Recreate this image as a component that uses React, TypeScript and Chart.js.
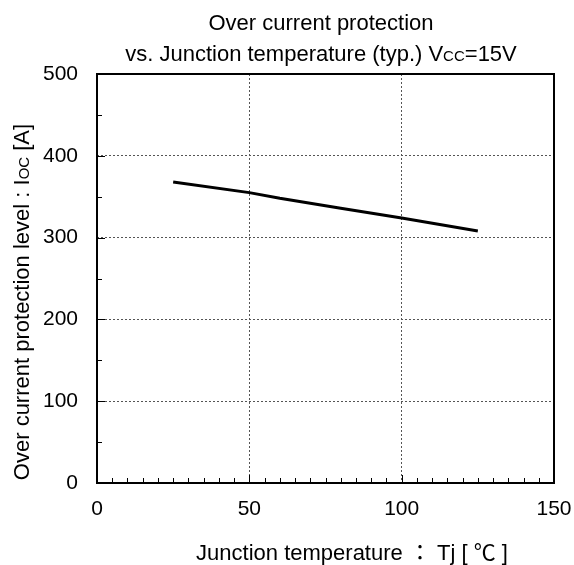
import React, { useEffect, useRef } from "react";
import { Chart, registerables } from "chart.js";

Chart.register(...registerables);

// ---- data ----
const temperatures = [25, 50, 60, 80, 100, 125];
const ocLevels = [368, 355, 348, 336, 324, 308];

const xMin = 0;
const xMax = 150;
const xMajorStep = 50;
const xMinorStep = 5;
const yMin = 0;
const yMax = 500;
const yMajorStep = 100;
const yMinorStep = 50;

const titleLine1 = "Over current protection";
const titleLine2 = [
  { t: "vs. Junction temperature (typ.) V", small: false },
  { t: "CC", small: true },
  { t: "=15V", small: false },
];
const xTitle = [{ t: "Junction temperature ： Tj [ ℃ ]", small: false }];
const yTitle = [
  { t: "Over current protection level : I", small: false },
  { t: "OC", small: true },
  { t: " [A]", small: false },
];

const FONT = '"Liberation Sans", Arial, "Noto Sans CJK JP", sans-serif';

type Seg = { t: string; small: boolean };

function drawRich(ctx: CanvasRenderingContext2D, segs: Seg[], cx: number, y: number, size: number, smallSize: number) {
  const fonts = segs.map((s) => `${s.small ? smallSize : size}px ${FONT}`);
  let total = 0;
  const widths = segs.map((s, i) => {
    ctx.font = fonts[i];
    const w = ctx.measureText(s.t).width;
    total += w;
    return w;
  });
  let x = cx - total / 2;
  ctx.textAlign = "left";
  ctx.textBaseline = "alphabetic";
  segs.forEach((s, i) => {
    ctx.font = fonts[i];
    ctx.fillText(s.t, x, y);
    x += widths[i];
  });
}

const decorPlugin = {
  id: "decor",
  afterDatasetsDraw(chart: any) {
    const { ctx, chartArea } = chart;
    const xs = chart.scales.x;
    const ys = chart.scales.y;
    ctx.save();
    ctx.strokeStyle = "#000";
    ctx.lineWidth = 1;
    ctx.setLineDash([]);
    xs.ticks.forEach((tk: any) => {
      const v = tk.value;
      if (v <= xMin || v >= xMax) return;
      const px = Math.round(xs.getPixelForValue(v)) + 0.5;
      const len = v % xMajorStep === 0 ? 8 : 5;
      ctx.beginPath();
      ctx.moveTo(px, chartArea.bottom);
      ctx.lineTo(px, chartArea.bottom - len);
      ctx.stroke();
    });
    ys.ticks.forEach((tk: any) => {
      const v = tk.value;
      if (v <= yMin || v >= yMax) return;
      const py = Math.round(ys.getPixelForValue(v)) + 0.5;
      const len = v % yMajorStep === 0 ? 8 : 5;
      ctx.beginPath();
      ctx.moveTo(chartArea.left, py);
      ctx.lineTo(chartArea.left + len, py);
      ctx.stroke();
    });
    ctx.lineWidth = 2;
    ctx.strokeRect(chartArea.left, chartArea.top, chartArea.right - chartArea.left, chartArea.bottom - chartArea.top);
    ctx.restore();
  },
  afterDraw(chart: any) {
    const { ctx } = chart;
    ctx.save();
    ctx.fillStyle = "#000";
    drawRich(ctx, [{ t: titleLine1, small: false }], 321, 30, 22, 15);
    drawRich(ctx, titleLine2, 321, 61, 22, 15);
    drawRich(ctx, xTitle, 352, 560, 22, 15);
    ctx.translate(29, 302);
    ctx.rotate(-Math.PI / 2);
    drawRich(ctx, yTitle, 0, 0, 22, 15);
    ctx.restore();
  },
};

export default function App() {
  const ref = useRef<HTMLCanvasElement | null>(null);
  useEffect(() => {
    if (!ref.current) return;
    const chart = new Chart(ref.current, {
      type: "line",
      data: {
        datasets: [
          {
            data: temperatures.map((t, i) => ({ x: t, y: ocLevels[i] })),
            borderColor: "#000",
            borderWidth: 3,
            pointRadius: 0,
            tension: 0,
            fill: false,
          },
        ],
      },
      options: {
        animation: false,
        responsive: false,
        devicePixelRatio: 1,
        layout: { padding: { top: 74, right: 20, left: 0, bottom: 0 } },
        plugins: { legend: { display: false }, title: { display: false }, tooltip: { enabled: false } },
        scales: {
          x: {
            type: "linear",
            min: xMin,
            max: xMax,
            afterFit: (s: any) => {
              s.height = 82;
              s.paddingLeft = 0;
              s.paddingRight = 0;
            },
            ticks: {
              stepSize: xMinorStep,
              autoSkip: false,
              maxRotation: 0,
              padding: 14,
              color: "#000",
              font: { family: FONT, size: 21 },
              callback: (v: any) => (Number(v) % xMajorStep === 0 ? String(v) : ""),
            },
            grid: {
              drawTicks: false,
              lineWidth: 1,
              color: (c: any) =>
                c.tick && c.tick.value % xMajorStep === 0 && c.tick.value > xMin && c.tick.value < xMax ? "#555" : "rgba(0,0,0,0)",
            },
            border: { display: false, dash: [2, 2] },
          },
          y: {
            type: "linear",
            min: yMin,
            max: yMax,
            afterFit: (s: any) => {
              s.width = 97;
              s.paddingTop = 0;
              s.paddingBottom = 0;
            },
            ticks: {
              stepSize: yMinorStep,
              autoSkip: false,
              padding: 19,
              color: "#000",
              font: { family: FONT, size: 21 },
              callback: (v: any) => (Number(v) % yMajorStep === 0 ? String(v) : ""),
            },
            grid: {
              drawTicks: false,
              lineWidth: 1,
              color: (c: any) =>
                c.tick && c.tick.value % yMajorStep === 0 && c.tick.value > yMin && c.tick.value < yMax ? "#555" : "rgba(0,0,0,0)",
            },
            border: { display: false, dash: [2, 2] },
          },
        },
      },
      plugins: [decorPlugin],
    } as any);
    return () => chart.destroy();
  }, []);
  return (
    <div style={{ position: "fixed", left: 0, top: 0, width: 574, height: 565, background: "#fff" }}>
      <canvas ref={ref} width={574} height={565} style={{ display: "block" }} />
    </div>
  );
}
